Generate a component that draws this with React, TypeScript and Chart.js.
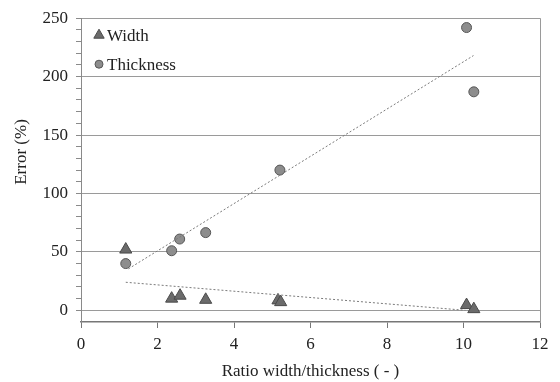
import React, { useEffect, useRef } from "react";
import { Chart, registerables } from "chart.js";

Chart.register(...registerables);

const widthX = [1.17, 2.37, 2.59, 3.26, 5.15, 5.22, 10.08, 10.27];
const widthY = [52, 10, 12.5, 9, 8.5, 7, 4.5, 1];
const thickX = [1.17, 2.37, 2.58, 3.26, 5.2, 10.08, 10.27];
const thickY = [40, 51, 61, 66.5, 120, 242, 187];
const thickTrendX = [1.24, 10.26];
const thickTrendY = [35.5, 218];
const widthTrendX = [1.17, 10.05];
const widthTrendY = [24, 0];
const yTickValues = [-10, 0, 10, 20, 30, 40, 50, 60, 70, 80, 90, 100, 110, 120, 130, 140, 150, 160, 170, 180, 190, 200, 210, 220, 230, 240, 250];

const FONT = "'Liberation Serif', 'Times New Roman', serif";
const TRI_FILL = "#6b6b6b";
const TRI_BORDER = "#4a4a4a";
const CIR_FILL = "#8d8d8d";
const CIR_BORDER = "#575757";

const pts = (xs: number[], ys: number[]) => xs.map((x, i) => ({ x, y: ys[i] }));

const extras = {
  id: "extras",
  afterDraw(chart: any) {
    const { ctx, chartArea } = chart;
    ctx.save();
    // right border
    ctx.strokeStyle = "#9a9a9a";
    ctx.lineWidth = 1;
    ctx.beginPath();
    ctx.moveTo(chartArea.right + 0.5, chartArea.top);
    ctx.lineTo(chartArea.right + 0.5, chartArea.bottom);
    ctx.stroke();
    // legend
    const lx = chartArea.left + 18;
    const ly1 = chartArea.top + 17;
    const ly2 = chartArea.top + 46;
    ctx.fillStyle = TRI_FILL;
    ctx.strokeStyle = TRI_BORDER;
    const r = 6;
    ctx.beginPath();
    ctx.moveTo(lx, ly1 - r);
    ctx.lineTo(lx + r * 0.866, ly1 + r * 0.5);
    ctx.lineTo(lx - r * 0.866, ly1 + r * 0.5);
    ctx.closePath();
    ctx.fill();
    ctx.stroke();
    ctx.fillStyle = CIR_FILL;
    ctx.strokeStyle = CIR_BORDER;
    ctx.beginPath();
    ctx.arc(lx, ly2, 4, 0, Math.PI * 2);
    ctx.fill();
    ctx.stroke();
    ctx.fillStyle = "#222";
    ctx.font = `17px ${FONT}`;
    ctx.textBaseline = "middle";
    ctx.textAlign = "left";
    ctx.fillText("Width", lx + 8, ly1 + 1);
    ctx.fillText("Thickness", lx + 8, ly2 + 1);
    // y title
    ctx.translate(22, 152);
    ctx.rotate(-Math.PI / 2);
    ctx.textAlign = "center";
    ctx.fillText("Error (%)", 0, 0);
    ctx.restore();
  },
};

export default function App() {
  const ref = useRef<HTMLCanvasElement | null>(null);
  useEffect(() => {
    if (!ref.current) return;
    const chart = new Chart(ref.current, {
      type: "scatter",
      data: {
        datasets: [
          {
            label: "Thickness trend",
            data: pts(thickTrendX, thickTrendY),
            showLine: true,
            borderColor: "#7a7a7a",
            borderWidth: 1,
            borderDash: [2, 2],
            pointRadius: 0,
          },
          {
            label: "Width trend",
            data: pts(widthTrendX, widthTrendY),
            showLine: true,
            borderColor: "#7a7a7a",
            borderWidth: 1,
            borderDash: [2, 2],
            pointRadius: 0,
          },
          {
            label: "Thickness",
            data: pts(thickX, thickY),
            pointStyle: "circle",
            pointRadius: 5,
            backgroundColor: CIR_FILL,
            borderColor: CIR_BORDER,
            borderWidth: 1,
          },
          {
            label: "Width",
            data: pts(widthX, widthY),
            pointStyle: "triangle",
            pointRadius: 7,
            backgroundColor: TRI_FILL,
            borderColor: TRI_BORDER,
            borderWidth: 1,
          },
        ],
      },
      options: {
        animation: false,
        responsive: false,
        layout: { padding: { top: 16, right: 20, left: 0, bottom: 0 } },
        plugins: { legend: { display: false }, tooltip: { enabled: false } },
        scales: {
          x: {
            type: "linear",
            min: 0,
            max: 12,
            ticks: { stepSize: 2, color: "#222", font: { family: FONT, size: 17 }, padding: 6 },
            grid: { drawOnChartArea: false, drawTicks: true, tickLength: 6, color: "#777" },
            border: { color: "#777", width: 1.5 },
            title: {
              display: true,
              text: "Ratio width/thickness ( - )",
              color: "#222",
              font: { family: FONT, size: 17 },
              padding: { top: 4, bottom: 0 },
            },
            afterFit(scale: any) {
              scale.height = 60;
            },
          },
          y: {
            type: "linear",
            min: -10,
            max: 250,
            afterBuildTicks(scale: any) {
              scale.ticks = yTickValues.map((v) => ({ value: v }));
            },
            ticks: {
              autoSkip: false,
              color: "#222",
              font: { family: FONT, size: 17 },
              padding: 8,
              callback: (v: any) => (Number(v) % 50 === 0 && Number(v) >= 0 ? String(v) : ""),
            },
            grid: {
              tickLength: 5,
              color: (c: any) => (c.tick && c.tick.value % 50 === 0 && c.tick.value > -10 ? "#9a9a9a" : "rgba(0,0,0,0)"),
              tickColor: (c: any) => (c.tick && c.tick.value === -10 ? "rgba(0,0,0,0)" : "#8a8a8a"),
              lineWidth: 1,
            },
            border: { color: "#8a8a8a", width: 1 },
            afterFit(scale: any) {
              scale.width = 81;
            },
          },
        },
      },
      plugins: [extras],
    });
    return () => chart.destroy();
  }, []);
  return (
    <div style={{ position: "fixed", left: 0, top: 0, width: 560, height: 382, background: "#fff" }}>
      <canvas ref={ref} width={560} height={382} style={{ width: 560, height: 382 }} />
    </div>
  );
}
